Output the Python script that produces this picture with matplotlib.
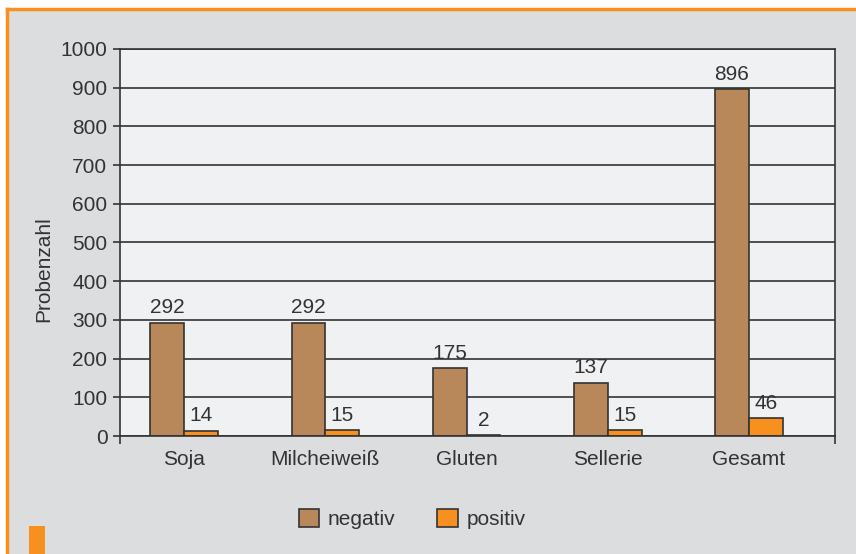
import matplotlib.pyplot as plt
import numpy as np
from matplotlib.patches import Rectangle
from matplotlib.lines import Line2D

categories = ['Soja', 'Milcheiweiß', 'Gluten', 'Sellerie', 'Gesamt']
negativ = [292, 292, 175, 137, 896]
positiv = [14, 15, 2, 15, 46]

plt.rcParams['font.family'] = ['Liberation Sans', 'DejaVu Sans']
plt.rcParams['font.size'] = 15
txt = '#333333'

fig = plt.figure(figsize=(8.56, 5.54), dpi=100)
fig.patch.set_facecolor('white')

# grey panel with orange frame lines
W, H = 856, 554
fig.patches.append(Rectangle((7 / W, 0), 1, 1 - 9 / H, transform=fig.transFigure,
                             facecolor='#dcdddf', edgecolor='none', zorder=-5))
fig.lines.append(Line2D([7 / W, 1], [1 - 9 / H, 1 - 9 / H], transform=fig.transFigure,
                        color='#f7901e', lw=2.5, zorder=-4))
fig.lines.append(Line2D([7 / W, 7 / W], [0, 1 - 9 / H], transform=fig.transFigure,
                        color='#f7901e', lw=2.5, zorder=-4))
fig.patches.append(Rectangle((29 / W, 0), 16 / W, 28 / H, transform=fig.transFigure,
                             facecolor='#f7901e', edgecolor='none', zorder=-4))

ax = fig.add_axes([120 / W, 1 - 436 / H, 715 / W, 387 / H])
ax.set_zorder(2)
ax.set_facecolor('#f0f1f3')

x = np.arange(len(categories))
w = 0.24
b1 = ax.bar(x - w / 2, negativ, w, color='#b8875a', edgecolor='#333333', lw=1.2, label='negativ')
b2 = ax.bar(x + w / 2, positiv, w, color='#f7901e', edgecolor='#333333', lw=1.2, label='positiv')
ax.bar_label(b1, padding=4, color=txt)
ax.bar_label(b2, padding=4, color=txt)

ax.set_ylim(0, 1000)
ax.set_yticks(range(0, 1001, 100))
ax.set_xlim(-0.455, 4.61)
ax.set_xticks(x)
ax.set_xticklabels(categories)
ax.set_xticks([-0.455, 4.61], minor=True)
ax.tick_params(axis='x', which='major', length=0, pad=10, colors=txt)
ax.tick_params(axis='x', which='minor', length=6, width=1.2, color='#333333')
ax.tick_params(axis='y', length=5, width=1.2, pad=4, colors=txt)

ax.yaxis.grid(True, color='#333333', lw=1.2)
ax.set_axisbelow(True)
for s in ax.spines.values():
    s.set_color('#333333')
    s.set_linewidth(1.2)

ax.set_ylabel('Probenzahl', color=txt)
ax.yaxis.set_label_coords(-0.093, 0.43)

fig.legend(handles=[b1, b2], labels=['negativ', 'positiv'], loc='center',
           bbox_to_anchor=(412 / W, 1 - 519 / H), ncol=2, frameon=False,
           handlelength=1.0, handleheight=1.0, handletextpad=0.4, columnspacing=2.0,
           labelcolor=txt)

fig.savefig('out.png', dpi=100, facecolor=fig.get_facecolor())
